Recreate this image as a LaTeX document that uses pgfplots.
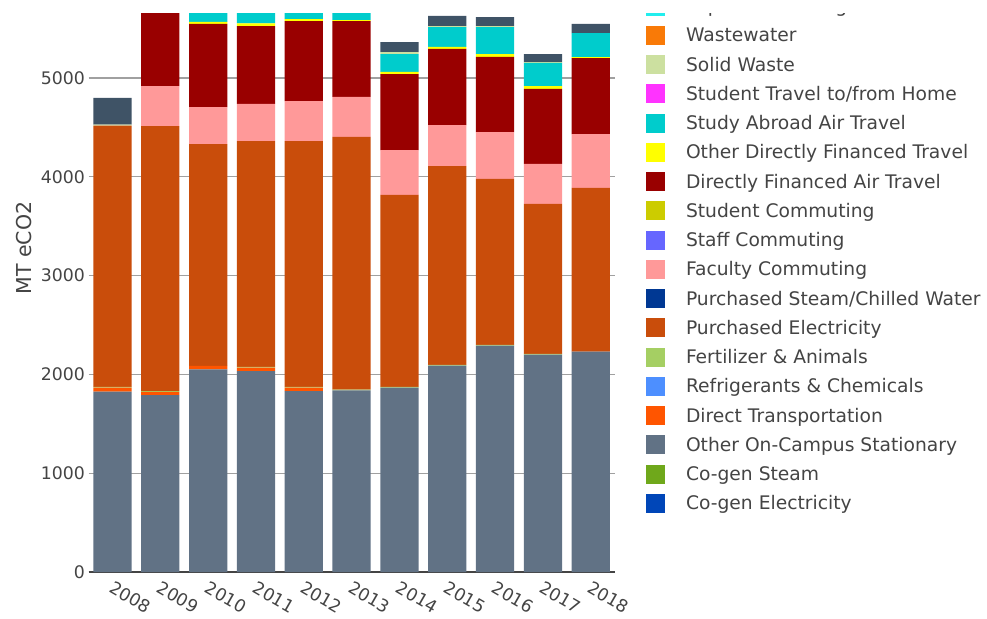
\documentclass[border=0pt]{standalone}
\usepackage{pgfplots}
\pgfplotsset{compat=1.18}
\usepackage{pgfplotstable}
\usepackage{fontspec}
\setmainfont{DejaVu Sans}
\definecolor{txt}{HTML}{444444}
\definecolor{gridc}{HTML}{A0A0A0}
\definecolor{cgE}{HTML}{0046B8}
\definecolor{cgS}{HTML}{6FA81B}
\definecolor{stat}{HTML}{617285}
\definecolor{dirT}{HTML}{FF5500}
\definecolor{refr}{HTML}{4D8FFF}
\definecolor{fert}{HTML}{A5CF63}
\definecolor{pelec}{HTML}{C94D0B}
\definecolor{psteam}{HTML}{003893}
\definecolor{fac}{HTML}{FF9999}
\definecolor{staff}{HTML}{6666FF}
\definecolor{stud}{HTML}{CCCC00}
\definecolor{air}{HTML}{990000}
\definecolor{otht}{HTML}{FFFF00}
\definecolor{abroad}{HTML}{00CCCC}
\definecolor{home}{HTML}{FF33FF}
\definecolor{solid}{HTML}{CCE0A0}
\definecolor{waste}{HTML}{F97A07}
\definecolor{paper}{HTML}{22EEEE}
\definecolor{tdl}{HTML}{3F5366}

\pgfplotstableread{
x  Cge Cgs Stat DirT Refr Fert PElec PSteam Fac Staff Stud Air  OthT Abroad Home Solid Waste Paper TD
0  0   0   1825 40   0    8    2645  0      0   0     0    0    0    0      0    10    0     0     270
1  0   0   1791 33   0    8    2682  0      405 0     0    1000 20   200    0    10    0     0     100
2  0   0   2052 34   0    0    2246  0      374 0     0    841  20   200    0    10    0     0     100
3  0   0   2034 34   0    8    2286  0      375 0     0    789  27   200    0    10    0     0     100
4  0   0   1832 33   0    8    2489  0      405 0     0    810  20   200    0    10    0     0     100
5  0   0   1839 0    0    8    2556  0      405 0     0    769  10   200    0    10    0     0     100
6  0   0   1866 0    0    8    1942  0      455 0     0    769  21   182    0    20    0     0     101
7  0   0   2088 0    0    8    2013  0      415 0     0    770  20   202    0    10    0     0     102
8  0   0   2291 0    0    8    1679  0      475 0     0    760  30   273    0    10    0     0     91
9  0   0   2200 0    0    8    1517  0      405 0     0    759  30   233    0    10    0     0     81
10 0   0   2230 0    0    0    1657  0      546 0     0    769  10   243    0    0     0     0     92
}\data

\begin{document}
\begin{tikzpicture}[x=1pt,y=1pt]
\begin{axis}[
  at={(88.6pt,46pt)}, anchor=south west,
  scale only axis, width=526pt, height=558pt,
  xmin=-0.5, xmax=10.5, ymin=0, ymax=5648,
  ybar stacked, bar width=0.8,
  xtick={0,1,2,3,4,5,6,7,8,9,10},
  xticklabels={2008,2009,2010,2011,2012,2013,2014,2015,2016,2017,2018},
  ytick={0,1000,2000,3000,4000,5000},
  yticklabels={0,1000,2000,3000,4000,5000},
  ymajorgrids, grid style={draw=gridc, line width=1.2pt},
  axis lines*=left,
  y axis line style={draw=none},
  x axis line style={draw=txt, line width=1.6pt, -},
  major tick length=0pt,
  ticklabel style={font=\fontsize{17.3}{20}\selectfont, text=txt},
  yticklabel style={anchor=east, inner sep=0pt, xshift=-3.6pt},
  xticklabel style={inner sep=0pt, xshift=-1.5pt, yshift=-14pt, rotate=-30, anchor=west},
  ylabel={MT eCO2},
  every axis y label/.style={at={(axis description cs:-0.1228,0.5806)}, rotate=90, anchor=center, font=\fontsize{20.5}{24}\selectfont, text=txt},
  reverse legend,
  legend cell align=left,
  legend image code/.code={\fill[#1] (0pt,-9.5pt) rectangle (19pt,9.5pt); \path (40pt,0pt);},
  legend style={at={(axis description cs:1.0597,0.0966)}, anchor=south west, draw=none, fill=none,
    inner sep=0pt, outer sep=0pt, row sep=0pt, font=\fontsize{18.7}{22}\selectfont, text=txt,
    nodes={inner sep=0pt, outer sep=0pt, minimum height=29.25pt, anchor=west}},
]
\addplot[fill=cgE, draw=none] table[x=x,y=Cge]{\data}; \addlegendentry{Co-gen Electricity}
\addplot[fill=cgS, draw=none] table[x=x,y=Cgs]{\data}; \addlegendentry{Co-gen Steam}
\addplot[fill=stat, draw=none] table[x=x,y=Stat]{\data}; \addlegendentry{Other On-Campus Stationary}
\addplot[fill=dirT, draw=none] table[x=x,y=DirT]{\data}; \addlegendentry{Direct Transportation}
\addplot[fill=refr, draw=none] table[x=x,y=Refr]{\data}; \addlegendentry{Refrigerants \& Chemicals}
\addplot[fill=fert, draw=none] table[x=x,y=Fert]{\data}; \addlegendentry{Fertilizer \& Animals}
\addplot[fill=pelec, draw=none] table[x=x,y=PElec]{\data}; \addlegendentry{Purchased Electricity}
\addplot[fill=psteam, draw=none] table[x=x,y=PSteam]{\data}; \addlegendentry{Purchased Steam/Chilled Water}
\addplot[fill=fac, draw=none] table[x=x,y=Fac]{\data}; \addlegendentry{Faculty Commuting}
\addplot[fill=staff, draw=none] table[x=x,y=Staff]{\data}; \addlegendentry{Staff Commuting}
\addplot[fill=stud, draw=none] table[x=x,y=Stud]{\data}; \addlegendentry{Student Commuting}
\addplot[fill=air, draw=none] table[x=x,y=Air]{\data}; \addlegendentry{Directly Financed Air Travel}
\addplot[fill=otht, draw=none] table[x=x,y=OthT]{\data}; \addlegendentry{Other Directly Financed Travel}
\addplot[fill=abroad, draw=none] table[x=x,y=Abroad]{\data}; \addlegendentry{Study Abroad Air Travel}
\addplot[fill=home, draw=none] table[x=x,y=Home]{\data}; \addlegendentry{Student Travel to/from Home}
\addplot[fill=solid, draw=none] table[x=x,y=Solid]{\data}; \addlegendentry{Solid Waste}
\addplot[fill=waste, draw=none] table[x=x,y=Waste]{\data}; \addlegendentry{Wastewater}
\addplot[fill=paper, draw=none] table[x=x,y=Paper]{\data}; \addlegendentry{Paper Purchasing}
\addplot[fill=tdl, draw=none] table[x=x,y=TD]{\data}; \addlegendentry{Scope 2 T\&D Losses}
\end{axis}
\fill[white] (630pt,604.6pt) rectangle (990pt,620pt);
\pgfresetboundingbox
\path[use as bounding box] (0pt,0pt) rectangle (987pt,618pt);
\end{tikzpicture}
\end{document}
